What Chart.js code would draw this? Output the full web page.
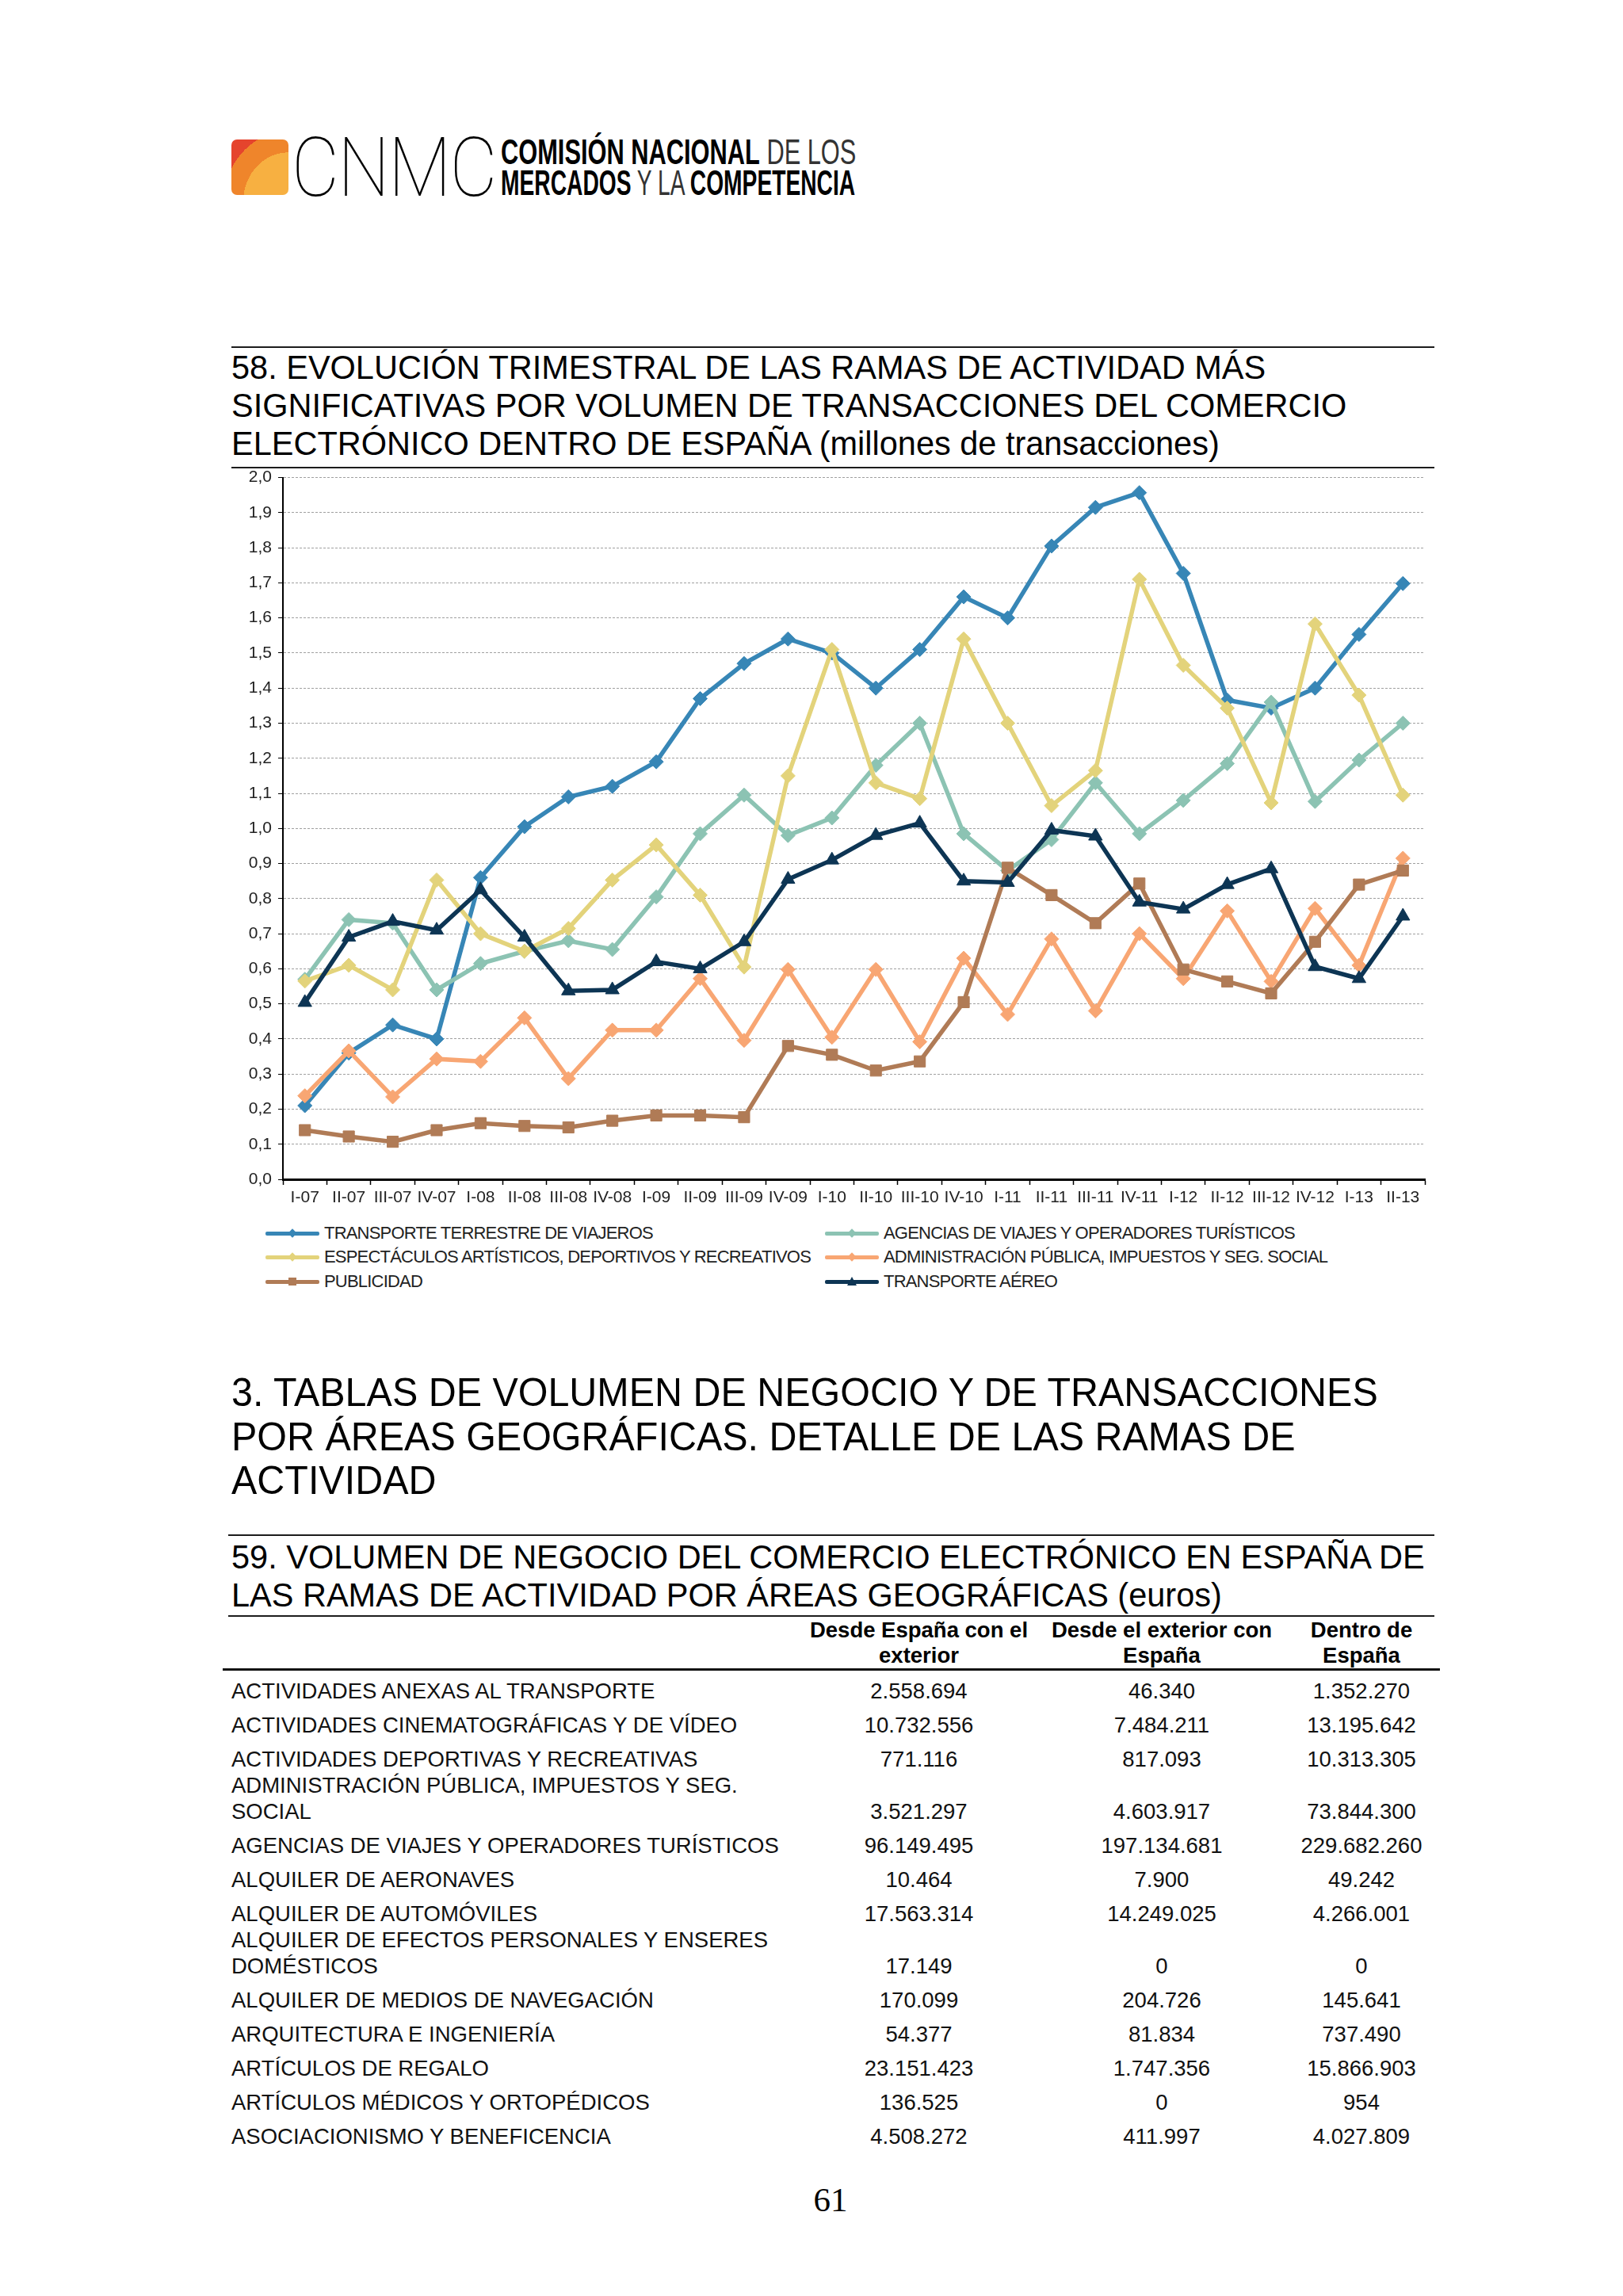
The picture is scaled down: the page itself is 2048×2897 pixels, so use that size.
<!DOCTYPE html>
<html lang="es">
<head>
<meta charset="utf-8">
<title>CNMC - Comercio electrónico</title>
<script src="https://cdn.jsdelivr.net/npm/chart.js@4.4.1/dist/chart.umd.min.js"></script>
<style>
html, body { margin: 0; padding: 0; background: #fff; }
#page { position: relative; width: 2048px; height: 2897px; overflow: hidden; font-family: 'Liberation Sans', Arial, sans-serif; color: #000; }
.abs { position: absolute; }
.rule { position: absolute; height: 2px; background: #1c1c1c; }
.titulo { font-size: 42px; line-height: 48px; white-space: nowrap; transform: scaleX(0.988); transform-origin: 0 0; }
.seccion { font-size: 50px; line-height: 55.5px; white-space: nowrap; transform: scaleX(0.969); transform-origin: 0 0; }

/* logo */
#logoBox { left: 292px; top: 176px; width: 72px; height: 70px; border-radius: 7px;
  background: radial-gradient(ellipse at 100% 112%, #f7b041 0 56%, #ef852b 56% 80%, #e5442d 80%); }
#logoCnmc { left: 368px; top: 160px; font-family: Roboto, sans-serif; font-weight: 100; font-size: 104px; line-height: 104px; transform: scaleX(0.89); transform-origin: 0 0; letter-spacing: -2px; }
.logoTxt { left: 632px; font-size: 44px; line-height: 39px; white-space: nowrap; transform-origin: 0 0; }
.logoTxt b { font-weight: 700; }
.logoTxt span { font-weight: 400; color: #333; }

/* chart */
#chartBox { left: 290px; top: 582px; width: 1525px; height: 956px; }

/* legend */
.ley { position: absolute; height: 26px; display: flex; align-items: center; font-size: 22px; letter-spacing: -0.8px; color: #222; white-space: nowrap; }
.ley .ln { position: relative; width: 68px; height: 5px; border-radius: 2px; margin-right: 6px; }
.ley .mk { position: absolute; left: 50%; top: 50%; }
.mk.diamond { width: 8px; height: 8px; margin: -4px 0 0 -4px; transform: rotate(45deg); }
.mk.square { width: 10px; height: 10px; margin: -5px 0 0 -5px; }
.mk.tri { width: 0; height: 0; margin: -6px 0 0 -6px; border-left: 6px solid transparent; border-right: 6px solid transparent; border-bottom-width: 11px; border-bottom-style: solid; }

/* table */
#tabla { position: absolute; left: 281px; top: 2041px; width: 1536px; border-collapse: collapse; table-layout: fixed; font-size: 27.5px; }
#tabla th { font-weight: 700; line-height: 32px; height: 64px; vertical-align: bottom; text-align: center; padding: 0; border-bottom: 3px solid #111; }
#tabla td { line-height: 33px; vertical-align: bottom; padding: 0; text-align: center; color: #111; }
#tabla td.rama { text-align: left; padding-left: 11px; }
#pagina { left: 998px; top: 2750px; width: 100px; text-align: center; font-family: 'Liberation Serif', 'Times New Roman', serif; font-size: 43px; line-height: 52px; }
</style>
</head>
<body>
<div id="page">
  <div id="logoBox" class="abs"></div>
  <div id="logoCnmc" class="abs">CNMC</div>
  <div class="abs logoTxt" style="top:172px;transform:scaleX(0.70);"><b>COMISIÓN NACIONAL</b> <span>DE LOS</span></div>
  <div class="abs logoTxt" style="top:211px;transform:scaleX(0.641);"><b>MERCADOS</b> <span>Y LA</span> <b>COMPETENCIA</b></div>

  <div class="rule" style="left:292px;top:437px;width:1518px;"></div>
  <div class="abs titulo" style="left:292px;top:440px;">58. EVOLUCIÓN TRIMESTRAL DE LAS RAMAS DE ACTIVIDAD MÁS<br>SIGNIFICATIVAS POR VOLUMEN DE TRANSACCIONES DEL COMERCIO<br>ELECTRÓNICO DENTRO DE ESPAÑA (millones de transacciones)</div>
  <div class="rule" style="left:292px;top:589px;width:1518px;"></div>

  <div id="chartBox" class="abs"><canvas id="grafico" width="1525" height="956"></canvas></div>

  <div class="ley" style="left:335px;top:1543px;"><div class="ln" style="background:#3786b6"><div class="mk diamond" style="background:#3786b6"></div></div>TRANSPORTE TERRESTRE DE VIAJEROS</div>
  <div class="ley" style="left:1041px;top:1543px;"><div class="ln" style="background:#8cc3b3"><div class="mk diamond" style="background:#8cc3b3"></div></div>AGENCIAS DE VIAJES Y OPERADORES TURÍSTICOS</div>
  <div class="ley" style="left:335px;top:1573px;"><div class="ln" style="background:#e3d37b"><div class="mk diamond" style="background:#e3d37b"></div></div>ESPECTÁCULOS ARTÍSTICOS, DEPORTIVOS Y RECREATIVOS</div>
  <div class="ley" style="left:1041px;top:1573px;"><div class="ln" style="background:#f8a673"><div class="mk diamond" style="background:#f8a673"></div></div>ADMINISTRACIÓN PÚBLICA, IMPUESTOS Y SEG. SOCIAL</div>
  <div class="ley" style="left:335px;top:1604px;"><div class="ln" style="background:#b07b56"><div class="mk square" style="background:#b07b56"></div></div>PUBLICIDAD</div>
  <div class="ley" style="left:1041px;top:1604px;"><div class="ln" style="background:#0d3554"><div class="mk tri" style="border-bottom-color:#0d3554"></div></div>TRANSPORTE AÉREO</div>

  <div class="abs seccion" style="left:292px;top:1730px;">3. TABLAS DE VOLUMEN DE NEGOCIO Y DE TRANSACCIONES<br>POR ÁREAS GEOGRÁFICAS. DETALLE DE LAS RAMAS DE<br>ACTIVIDAD</div>

  <div class="rule" style="left:288px;top:1936px;width:1522px;"></div>
  <div class="abs titulo" style="left:292px;top:1941px;">59. VOLUMEN DE NEGOCIO DEL COMERCIO ELECTRÓNICO EN ESPAÑA DE<br>LAS RAMAS DE ACTIVIDAD POR ÁREAS GEOGRÁFICAS (euros)</div>
  <div class="rule" style="left:288px;top:2038px;width:1522px;"></div>

  <table id="tabla">
    <colgroup><col style="width:725px"><col style="width:307px"><col style="width:306px"><col style="width:198px"></colgroup>
    <thead><tr><th></th><th>Desde España con el<br>exterior</th><th>Desde el exterior con<br>España</th><th>Dentro de<br>España</th></tr></thead>
    <tbody id="cuerpo"></tbody>
  </table>

  <div id="pagina" class="abs">61</div>
</div>

<script>
// trimestres del eje X
const trimestres = ["I-07", "II-07", "III-07", "IV-07", "I-08", "II-08", "III-08", "IV-08",
    "I-09", "II-09", "III-09", "IV-09", "I-10", "II-10", "III-10", "IV-10",
    "I-11", "II-11", "III-11", "IV-11", "I-12", "II-12", "III-12", "IV-12", "I-13", "II-13"];

// millones de transacciones por rama
const transporteTerrestre = [0.21, 0.36, 0.44, 0.40, 0.86, 1.005, 1.09, 1.12, 1.19, 1.37, 1.47, 1.54, 1.50,
    1.40, 1.51, 1.66, 1.60, 1.805, 1.915, 1.957, 1.727, 1.366, 1.343, 1.40, 1.553, 1.698];
const agenciasViajes = [0.57, 0.74, 0.73, 0.54, 0.615, 0.65, 0.68, 0.655, 0.805, 0.985, 1.095, 0.98, 1.03,
    1.18, 1.30, 0.985, 0.88, 0.968, 1.13, 0.985, 1.08, 1.185, 1.36, 1.077, 1.195, 1.30];
const espectaculos = [0.565, 0.61, 0.54, 0.853, 0.70, 0.65, 0.715, 0.853, 0.953, 0.81, 0.605, 1.15, 1.51,
    1.13, 1.085, 1.54, 1.30, 1.065, 1.165, 1.71, 1.465, 1.343, 1.073, 1.583, 1.38, 1.095];
const administracion = [0.238, 0.366, 0.235, 0.343, 0.336, 0.46, 0.287, 0.425, 0.425, 0.572, 0.396, 0.598, 0.405,
    0.598, 0.392, 0.63, 0.47, 0.685, 0.48, 0.70, 0.572, 0.765, 0.564, 0.772, 0.61, 0.915];
const publicidad = [0.14, 0.122, 0.107, 0.14, 0.16, 0.152, 0.148, 0.167, 0.182, 0.182, 0.177, 0.38, 0.355,
    0.31, 0.336, 0.505, 0.888, 0.81, 0.73, 0.843, 0.598, 0.564, 0.53, 0.677, 0.84, 0.88];
const transporteAereo = [0.504, 0.69, 0.735, 0.71, 0.825, 0.69, 0.537, 0.54, 0.62, 0.60, 0.677, 0.855, 0.91,
    0.98, 1.015, 0.85, 0.846, 0.995, 0.978, 0.79, 0.77, 0.84, 0.885, 0.606, 0.572, 0.75];

// tabla 59 (euros)
const ramas = ["ACTIVIDADES ANEXAS AL TRANSPORTE", "ACTIVIDADES CINEMATOGRÁFICAS Y DE VÍDEO",
    "ACTIVIDADES DEPORTIVAS Y RECREATIVAS", "ADMINISTRACIÓN PÚBLICA, IMPUESTOS Y SEG.<br>SOCIAL",
    "AGENCIAS DE VIAJES Y OPERADORES TURÍSTICOS", "ALQUILER DE AERONAVES", "ALQUILER DE AUTOMÓVILES",
    "ALQUILER DE EFECTOS PERSONALES Y ENSERES<br>DOMÉSTICOS", "ALQUILER DE MEDIOS DE NAVEGACIÓN",
    "ARQUITECTURA E INGENIERÍA", "ARTÍCULOS DE REGALO", "ARTÍCULOS MÉDICOS Y ORTOPÉDICOS",
    "ASOCIACIONISMO Y BENEFICENCIA"];
const desdeEspana = ["2.558.694", "10.732.556", "771.116", "3.521.297", "96.149.495", "10.464", "17.563.314",
    "17.149", "170.099", "54.377", "23.151.423", "136.525", "4.508.272"];
const desdeExterior = ["46.340", "7.484.211", "817.093", "4.603.917", "197.134.681", "7.900", "14.249.025",
    "0", "204.726", "81.834", "1.747.356", "0", "411.997"];
const dentroEspana = ["1.352.270", "13.195.642", "10.313.305", "73.844.300", "229.682.260", "49.242", "4.266.001",
    "0", "145.641", "737.490", "15.866.903", "954", "4.027.809"];

const cuerpo = document.getElementById("cuerpo");
ramas.forEach(function (r, i) {
    const tr = document.createElement("tr");
    tr.style.height = r.indexOf("<br>") >= 0 ? "66px" : "43px";
    tr.innerHTML = '<td class="rama">' + r + '</td><td>' + desdeEspana[i] + '</td><td>' +
        desdeExterior[i] + '</td><td>' + dentroEspana[i] + '</td>';
    cuerpo.appendChild(tr);
});

Chart.defaults.font.family = "'Liberation Sans', Arial, sans-serif";
Chart.defaults.color = "#222";

function serie(label, data, color, forma, radio, orden) {
    return {
        label: label,
        data: data,
        borderColor: color,
        backgroundColor: color,
        pointBackgroundColor: color,
        pointBorderColor: color,
        pointStyle: forma,
        pointRadius: radio,
        pointBorderWidth: 1,
        borderWidth: 5.5,
        tension: 0,
        order: orden
    };
}

const grafico = new Chart(document.getElementById("grafico"), {
    type: "line",
    data: {
        labels: trimestres,
        datasets: [
            serie("TRANSPORTE TERRESTRE DE VIAJEROS", transporteTerrestre, "#3786b6", "rectRot", 9, 5),
            serie("AGENCIAS DE VIAJES Y OPERADORES TURÍSTICOS", agenciasViajes, "#8cc3b3", "rectRot", 9, 4),
            serie("ESPECTÁCULOS ARTÍSTICOS, DEPORTIVOS Y RECREATIVOS", espectaculos, "#e3d37b", "rectRot", 9, 3),
            serie("ADMINISTRACIÓN PÚBLICA, IMPUESTOS Y SEG. SOCIAL", administracion, "#f8a673", "rectRot", 9, 2),
            serie("PUBLICIDAD", publicidad, "#b07b56", "rect", 10, 1),
            serie("TRANSPORTE AÉREO", transporteAereo, "#0d3554", "triangle", 10, 0)
        ]
    },
    options: {
        responsive: false,
        animation: false,
        devicePixelRatio: 1,
        layout: { padding: { top: 13, right: 17, left: 0, bottom: 0 } },
        plugins: { legend: { display: false }, tooltip: { enabled: false } },
        scales: {
            x: {
                offset: true,
                grid: { offset: true, drawOnChartArea: false, tickLength: 7, tickColor: "#000", tickWidth: 1.5 },
                border: { color: "#000", width: 3 },
                ticks: { autoSkip: false, maxRotation: 0, padding: 4, font: { size: 21 }, color: "#222" },
                afterFit: function (s) { s.height = 50; }
            },
            y: {
                min: 0,
                max: 2,
                ticks: {
                    stepSize: 0.1,
                    padding: 8,
                    font: { size: 21 },
                    color: "#222",
                    callback: function (v) { return v.toFixed(1).replace(".", ","); }
                },
                grid: { color: "#a0a0a0", lineWidth: 1, tickLength: 6, tickColor: "#000", tickBorderDash: [] },
                border: { color: "#000", width: 2, dash: [3, 2] },
                afterFit: function (s) { s.width = 67; }
            }
        }
    }
});
</script>
</body>
</html>
